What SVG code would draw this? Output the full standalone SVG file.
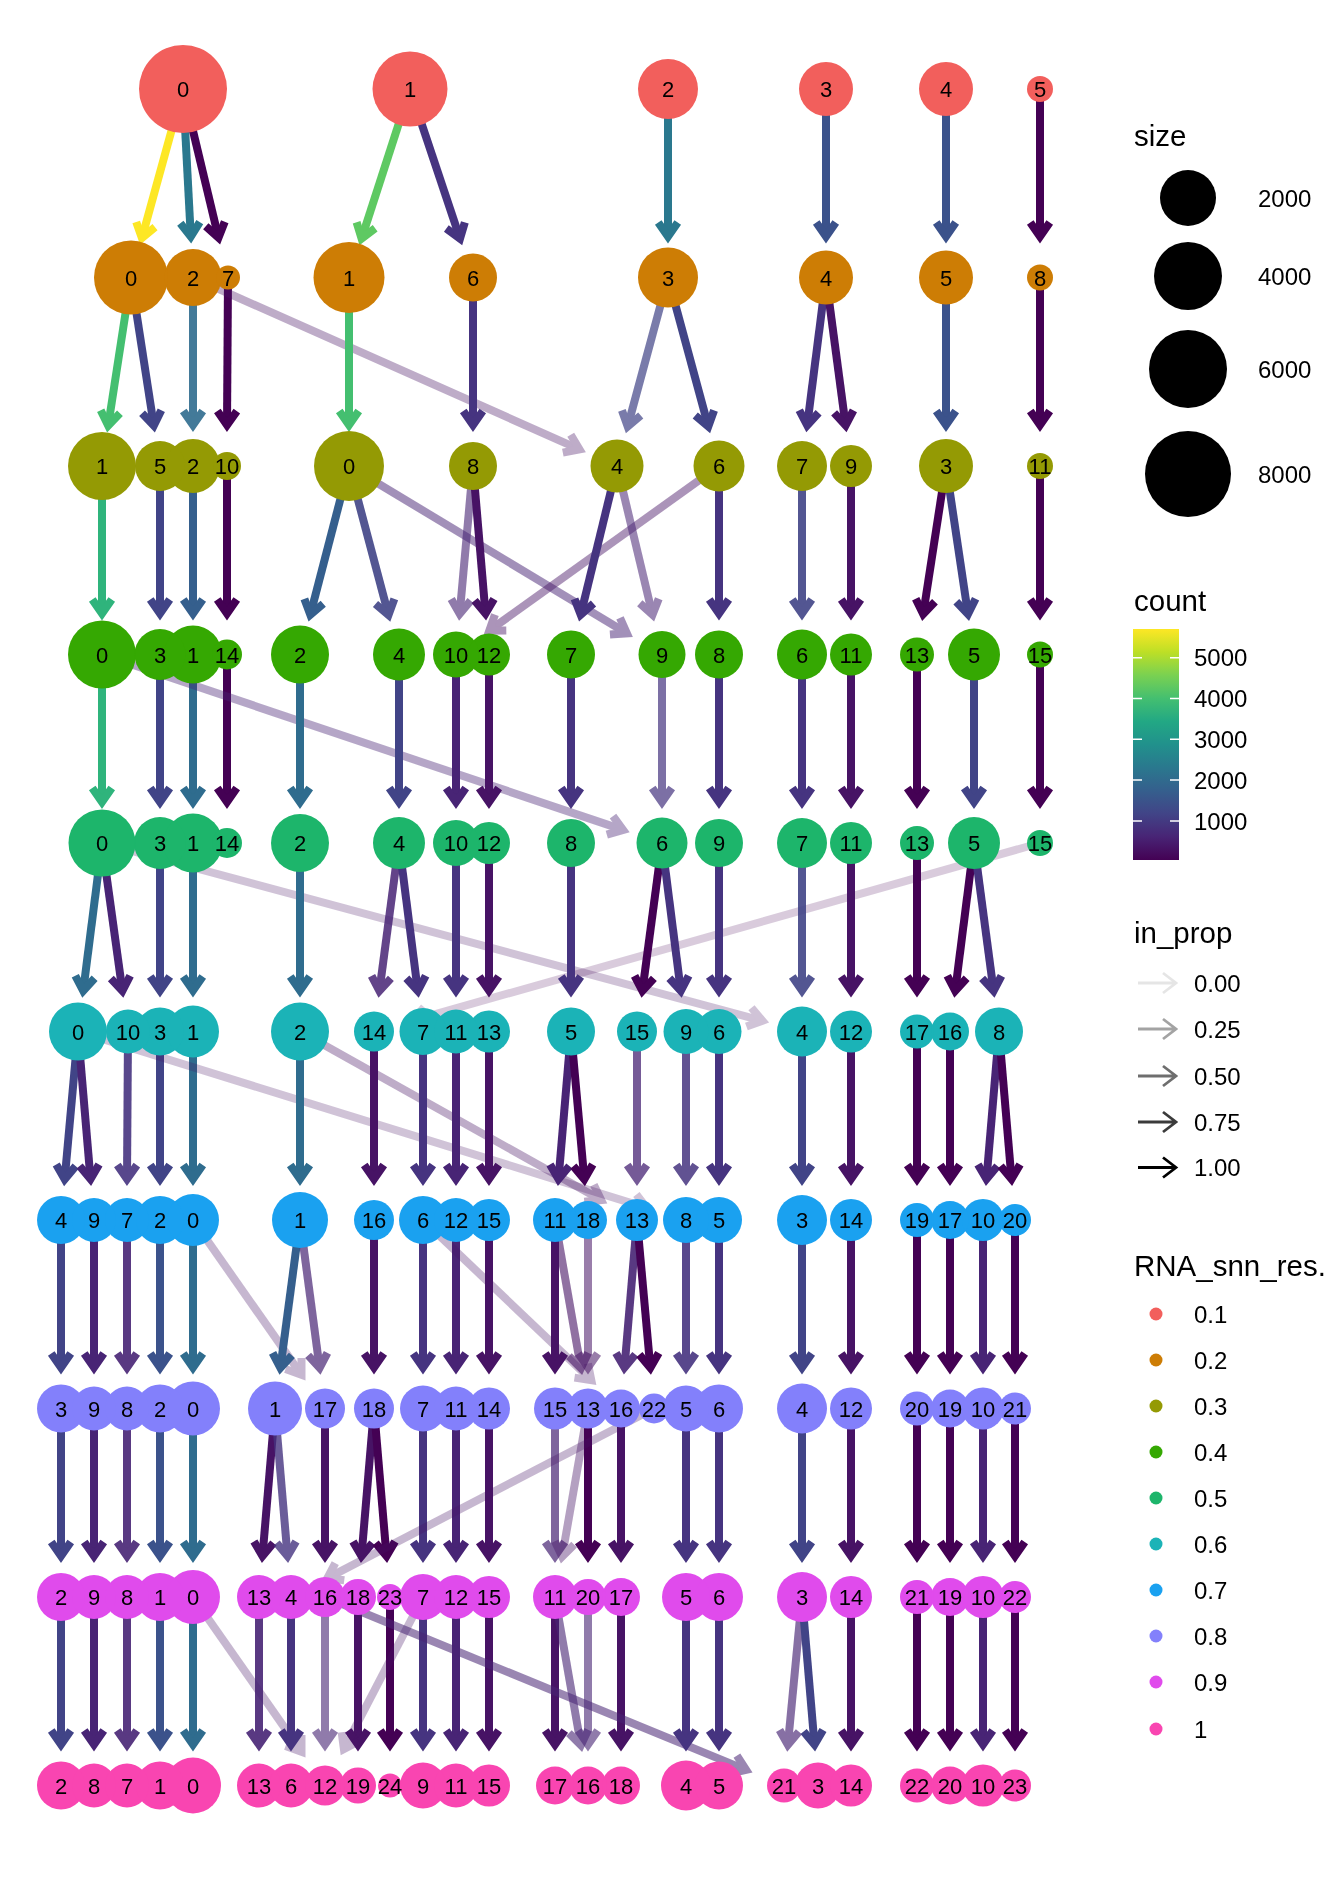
<svg xmlns="http://www.w3.org/2000/svg" width="1344" height="1881" viewBox="0 0 1344 1881">
<style>
.e{fill:none;stroke-width:8;stroke-linecap:butt}
.cA{stroke:#440154;marker-end:url(#mA)}
.cB{stroke:#471365;marker-end:url(#mB)}
.cC{stroke:#482475;marker-end:url(#mC)}
.cD{stroke:#463480;marker-end:url(#mD)}
.cE{stroke:#414487;marker-end:url(#mE)}
.cF{stroke:#3B528B;marker-end:url(#mF)}
.cG{stroke:#355F8D;marker-end:url(#mG)}
.cH{stroke:#2F6C8E;marker-end:url(#mH)}
.cI{stroke:#2A788E;marker-end:url(#mI)}
.cJ{stroke:#2FB47C;marker-end:url(#mJ)}
.cK{stroke:#44BF70;marker-end:url(#mK)}
.cL{stroke:#5EC962;marker-end:url(#mL)}
.cM{stroke:#FDE725;marker-end:url(#mM)}
.ah{fill:none;stroke-width:8;stroke-linejoin:miter}
.r1{fill:#F25F5C}.r2{fill:#CD7D05}.r3{fill:#949A04}.r4{fill:#35A802}.r5{fill:#1DB56B}
.r6{fill:#1BB3B7}.r7{fill:#1AA1F0}.r8{fill:#8380FB}.r9{fill:#E04BEC}.r10{fill:#F945B1}
text{font-family:'Liberation Sans',Arial,Helvetica,sans-serif;fill:#000}
#nodes{isolation:isolate}
#nodes circle{mix-blend-mode:darken}
#nodes text{font-size:22px;text-anchor:middle}
.lg{font-size:24px}
.lt{font-size:29.5px}
.tk{stroke:#fff;stroke-width:1.5}
.ip{fill:none;stroke:#000;stroke-width:2.8}
</style>
<defs>
<marker id="mA" markerUnits="userSpaceOnUse" orient="auto" overflow="visible" markerWidth="30" markerHeight="30" refX="0" refY="0"><path class="ah" stroke="#440154" d="M-13.93,-9.75L0,0L-13.93,9.75"/></marker>
<marker id="mB" markerUnits="userSpaceOnUse" orient="auto" overflow="visible" markerWidth="30" markerHeight="30" refX="0" refY="0"><path class="ah" stroke="#471365" d="M-13.93,-9.75L0,0L-13.93,9.75"/></marker>
<marker id="mC" markerUnits="userSpaceOnUse" orient="auto" overflow="visible" markerWidth="30" markerHeight="30" refX="0" refY="0"><path class="ah" stroke="#482475" d="M-13.93,-9.75L0,0L-13.93,9.75"/></marker>
<marker id="mD" markerUnits="userSpaceOnUse" orient="auto" overflow="visible" markerWidth="30" markerHeight="30" refX="0" refY="0"><path class="ah" stroke="#463480" d="M-13.93,-9.75L0,0L-13.93,9.75"/></marker>
<marker id="mE" markerUnits="userSpaceOnUse" orient="auto" overflow="visible" markerWidth="30" markerHeight="30" refX="0" refY="0"><path class="ah" stroke="#414487" d="M-13.93,-9.75L0,0L-13.93,9.75"/></marker>
<marker id="mF" markerUnits="userSpaceOnUse" orient="auto" overflow="visible" markerWidth="30" markerHeight="30" refX="0" refY="0"><path class="ah" stroke="#3B528B" d="M-13.93,-9.75L0,0L-13.93,9.75"/></marker>
<marker id="mG" markerUnits="userSpaceOnUse" orient="auto" overflow="visible" markerWidth="30" markerHeight="30" refX="0" refY="0"><path class="ah" stroke="#355F8D" d="M-13.93,-9.75L0,0L-13.93,9.75"/></marker>
<marker id="mH" markerUnits="userSpaceOnUse" orient="auto" overflow="visible" markerWidth="30" markerHeight="30" refX="0" refY="0"><path class="ah" stroke="#2F6C8E" d="M-13.93,-9.75L0,0L-13.93,9.75"/></marker>
<marker id="mI" markerUnits="userSpaceOnUse" orient="auto" overflow="visible" markerWidth="30" markerHeight="30" refX="0" refY="0"><path class="ah" stroke="#2A788E" d="M-13.93,-9.75L0,0L-13.93,9.75"/></marker>
<marker id="mJ" markerUnits="userSpaceOnUse" orient="auto" overflow="visible" markerWidth="30" markerHeight="30" refX="0" refY="0"><path class="ah" stroke="#2FB47C" d="M-13.93,-9.75L0,0L-13.93,9.75"/></marker>
<marker id="mK" markerUnits="userSpaceOnUse" orient="auto" overflow="visible" markerWidth="30" markerHeight="30" refX="0" refY="0"><path class="ah" stroke="#44BF70" d="M-13.93,-9.75L0,0L-13.93,9.75"/></marker>
<marker id="mL" markerUnits="userSpaceOnUse" orient="auto" overflow="visible" markerWidth="30" markerHeight="30" refX="0" refY="0"><path class="ah" stroke="#5EC962" d="M-13.93,-9.75L0,0L-13.93,9.75"/></marker>
<marker id="mM" markerUnits="userSpaceOnUse" orient="auto" overflow="visible" markerWidth="30" markerHeight="30" refX="0" refY="0"><path class="ah" stroke="#FDE725" d="M-13.93,-9.75L0,0L-13.93,9.75"/></marker>
<linearGradient id="vir" x1="0" y1="1" x2="0" y2="0">
<stop offset="0" stop-color="#440154"/><stop offset="0.1" stop-color="#482475"/><stop offset="0.2" stop-color="#414487"/><stop offset="0.3" stop-color="#355F8D"/><stop offset="0.4" stop-color="#2A788E"/><stop offset="0.5" stop-color="#21918C"/><stop offset="0.6" stop-color="#22A884"/><stop offset="0.7" stop-color="#44BF70"/><stop offset="0.8" stop-color="#7AD151"/><stop offset="0.9" stop-color="#BDDF26"/><stop offset="1" stop-color="#FDE725"/>
</linearGradient>
</defs>
<rect width="1344" height="1881" fill="#fff"/>
<g id="edges">
<line class="e cM" x1="183" y1="89" x2="141.9" y2="238"/>
<line class="e cI" x1="183" y1="89" x2="190.8" y2="236.6"/>
<line class="e cA" x1="183" y1="89" x2="218.5" y2="237.6"/>
<line class="e cL" x1="410" y1="89" x2="361.6" y2="238.5"/>
<line class="e cD" x1="410" y1="89" x2="460" y2="238.6"/>
<line class="e cI" x1="668" y1="89" x2="668" y2="236.5"/>
<line class="e cF" x1="826" y1="89" x2="826" y2="236.5"/>
<line class="e cF" x1="946" y1="89" x2="946" y2="236.5"/>
<line class="e cA" x1="1040" y1="89" x2="1040" y2="236.5"/>

<line class="e cK" x1="131" y1="277.5" x2="108.2" y2="425.5"/>
<line class="e cE" x1="131" y1="277.5" x2="153.8" y2="425.5"/>
<line class="e cH" opacity="0.9" x1="193" y1="277.5" x2="193" y2="425"/>
<line class="e cA" x1="228" y1="277.5" x2="227" y2="425"/>
<line class="e cB" opacity="0.35" x1="193" y1="277.5" x2="579.5" y2="449.3"/>
<line class="e cK" x1="349" y1="277.5" x2="349" y2="425"/>
<line class="e cD" x1="473" y1="277.5" x2="473" y2="425"/>
<line class="e cE" opacity="0.7" x1="668" y1="277.5" x2="627.7" y2="426.4"/>
<line class="e cE" x1="668" y1="277.5" x2="708.3" y2="426.4"/>
<line class="e cD" x1="826" y1="277.5" x2="807.2" y2="425.3"/>
<line class="e cB" x1="826" y1="277.5" x2="845.6" y2="425.4"/>
<line class="e cF" x1="946" y1="277.5" x2="946" y2="425"/>
<line class="e cA" x1="1040" y1="277.5" x2="1040" y2="425"/>

<line class="e cJ" x1="102" y1="466" x2="102" y2="613.5"/>
<line class="e cE" x1="160" y1="466" x2="160" y2="613.5"/>
<line class="e cG" x1="193" y1="466" x2="193" y2="613.5"/>
<line class="e cA" x1="227" y1="466" x2="227" y2="613.5"/>
<line class="e cG" x1="349" y1="466" x2="310.3" y2="614.8"/>
<line class="e cE" opacity="0.9" x1="349" y1="466" x2="388.5" y2="614.9"/>
<line class="e cC" opacity="0.5" x1="349" y1="466" x2="626.9" y2="633.3"/>
<line class="e cC" opacity="0.6" x1="473" y1="466" x2="459.7" y2="613.7"/>
<line class="e cB" x1="473" y1="466" x2="485.5" y2="613.6"/>
<line class="e cB" opacity="0.45" x1="719" y1="466" x2="489.3" y2="630.6"/>
<line class="e cD" x1="617" y1="466" x2="580.7" y2="614.7"/>
<line class="e cC" opacity="0.55" x1="617" y1="466" x2="652.5" y2="614.6"/>
<line class="e cD" x1="719" y1="466" x2="719" y2="613.5"/>
<line class="e cE" opacity="0.9" x1="802" y1="466" x2="802" y2="613.5"/>
<line class="e cB" x1="851" y1="466" x2="851" y2="613.5"/>
<line class="e cA" x1="946" y1="466" x2="923.2" y2="614"/>
<line class="e cE" x1="946" y1="466" x2="968" y2="614"/>
<line class="e cA" x1="1040" y1="466" x2="1040" y2="613.5"/>

<line class="e cJ" x1="102" y1="654.5" x2="102" y2="802"/>
<line class="e cE" x1="160" y1="654.5" x2="160" y2="802"/>
<line class="e cH" x1="193" y1="654.5" x2="193" y2="802"/>
<line class="e cA" x1="227" y1="654.5" x2="227" y2="802"/>
<line class="e cC" opacity="0.4" x1="102" y1="654.5" x2="623.1" y2="829.9"/>
<line class="e cH" x1="300" y1="654.5" x2="300" y2="802"/>
<line class="e cE" x1="399" y1="654.5" x2="399" y2="802"/>
<line class="e cC" x1="456" y1="654.5" x2="456" y2="802"/>
<line class="e cB" x1="489" y1="654.5" x2="489" y2="802"/>
<line class="e cD" x1="571" y1="654.5" x2="571" y2="802"/>
<line class="e cD" opacity="0.7" x1="662" y1="654.5" x2="662" y2="802"/>
<line class="e cD" x1="719" y1="654.5" x2="719" y2="802"/>
<line class="e cD" x1="802" y1="654.5" x2="802" y2="802"/>
<line class="e cB" x1="851" y1="654.5" x2="851" y2="802"/>
<line class="e cA" x1="917" y1="654.5" x2="917" y2="802"/>
<line class="e cE" x1="974" y1="654.5" x2="974" y2="802"/>
<line class="e cA" x1="1040" y1="654.5" x2="1040" y2="802"/>

<line class="e cH" x1="102" y1="843" x2="83.2" y2="990.8"/>
<line class="e cC" x1="102" y1="843" x2="122.4" y2="990.9"/>
<line class="e cE" x1="160" y1="843" x2="160" y2="990.5"/>
<line class="e cH" x1="193" y1="843" x2="193" y2="990.5"/>
<line class="e cB" opacity="0.25" x1="102" y1="843" x2="762.4" y2="1020.8"/>
<line class="e cH" x1="300" y1="843" x2="300" y2="990.5"/>
<line class="e cC" opacity="0.85" x1="399" y1="843" x2="379.4" y2="990.9"/>
<line class="e cD" x1="399" y1="843" x2="417.8" y2="990.8"/>
<line class="e cD" x1="456" y1="843" x2="456" y2="990.5"/>
<line class="e cB" x1="489" y1="843" x2="489" y2="990.5"/>
<line class="e cA" opacity="0.2" x1="1040" y1="843" x2="413.4" y2="1020.3"/>
<line class="e cD" x1="571" y1="843" x2="571" y2="990.5"/>
<line class="e cA" x1="662" y1="843" x2="642.4" y2="990.9"/>
<line class="e cD" x1="662" y1="843" x2="680.8" y2="990.8"/>
<line class="e cD" x1="719" y1="843" x2="719" y2="990.5"/>
<line class="e cE" opacity="0.9" x1="802" y1="843" x2="802" y2="990.5"/>
<line class="e cB" x1="851" y1="843" x2="851" y2="990.5"/>
<line class="e cA" x1="917" y1="843" x2="917" y2="990.5"/>
<line class="e cA" x1="974" y1="843" x2="955.2" y2="990.8"/>
<line class="e cD" x1="974" y1="843" x2="993.6" y2="990.9"/>

<line class="e cE" x1="78" y1="1031.5" x2="64.7" y2="1179.2"/>
<line class="e cC" x1="78" y1="1031.5" x2="90.5" y2="1179.1"/>
<line class="e cD" opacity="0.9" x1="128" y1="1031.5" x2="127" y2="1179"/>
<line class="e cE" x1="160" y1="1031.5" x2="160" y2="1179"/>
<line class="e cH" x1="193" y1="1031.5" x2="193" y2="1179"/>
<line class="e cB" opacity="0.25" x1="78" y1="1031.5" x2="646.8" y2="1207.9"/>
<line class="e cH" x1="300" y1="1031.5" x2="300" y2="1179"/>
<line class="e cB" opacity="0.35" x1="300" y1="1031.5" x2="601.2" y2="1200"/>
<line class="e cB" x1="374" y1="1031.5" x2="374" y2="1179"/>
<line class="e cD" x1="423" y1="1031.5" x2="423" y2="1179"/>
<line class="e cC" x1="456" y1="1031.5" x2="456" y2="1179"/>
<line class="e cB" x1="489" y1="1031.5" x2="489" y2="1179"/>
<line class="e cC" x1="571" y1="1031.5" x2="558.5" y2="1179.1"/>
<line class="e cA" x1="571" y1="1031.5" x2="584.3" y2="1179.2"/>
<line class="e cC" opacity="0.75" x1="637" y1="1031.5" x2="637" y2="1179"/>
<line class="e cD" opacity="0.85" x1="686" y1="1031.5" x2="686" y2="1179"/>
<line class="e cD" x1="719" y1="1031.5" x2="719" y2="1179"/>
<line class="e cE" x1="802" y1="1031.5" x2="802" y2="1179"/>
<line class="e cB" x1="851" y1="1031.5" x2="851" y2="1179"/>
<line class="e cA" x1="917" y1="1031.5" x2="917" y2="1179"/>
<line class="e cA" x1="950" y1="1031.5" x2="950" y2="1179"/>
<line class="e cC" x1="999" y1="1031.5" x2="986.5" y2="1179.1"/>
<line class="e cA" x1="999" y1="1031.5" x2="1011.5" y2="1179.1"/>

<line class="e cE" x1="61" y1="1220" x2="61" y2="1367.5"/>
<line class="e cC" x1="94" y1="1220" x2="94" y2="1367.5"/>
<line class="e cC" opacity="0.9" x1="127" y1="1220" x2="127" y2="1367.5"/>
<line class="e cF" x1="160" y1="1220" x2="160" y2="1367.5"/>
<line class="e cH" x1="193" y1="1220" x2="193" y2="1367.5"/>
<line class="e cB" opacity="0.3" x1="193" y1="1220" x2="301.5" y2="1374.9"/>
<line class="e cG" x1="300" y1="1220" x2="280.4" y2="1367.9"/>
<line class="e cC" opacity="0.7" x1="300" y1="1220" x2="319.6" y2="1367.9"/>
<line class="e cB" x1="374" y1="1220" x2="374" y2="1367.5"/>
<line class="e cD" x1="423" y1="1220" x2="423" y2="1367.5"/>
<line class="e cC" x1="456" y1="1220" x2="456" y2="1367.5"/>
<line class="e cB" x1="489" y1="1220" x2="489" y2="1367.5"/>
<line class="e cB" x1="555" y1="1220" x2="555" y2="1367.5"/>
<line class="e cB" opacity="0.6" x1="555" y1="1220" x2="580.9" y2="1368.1"/>
<line class="e cB" opacity="0.55" x1="588" y1="1220" x2="588" y2="1367.5"/>
<line class="e cB" opacity="0.3" x1="423" y1="1220" x2="591.3" y2="1380.2"/>
<line class="e cC" opacity="0.9" x1="637" y1="1220" x2="624.5" y2="1367.6"/>
<line class="e cA" x1="637" y1="1220" x2="650.3" y2="1367.7"/>
<line class="e cD" opacity="0.9" x1="686" y1="1220" x2="686" y2="1367.5"/>
<line class="e cD" x1="719" y1="1220" x2="719" y2="1367.5"/>
<line class="e cE" x1="802" y1="1220" x2="802" y2="1367.5"/>
<line class="e cB" x1="851" y1="1220" x2="851" y2="1367.5"/>
<line class="e cA" x1="917" y1="1220" x2="917" y2="1367.5"/>
<line class="e cA" x1="950" y1="1220" x2="950" y2="1367.5"/>
<line class="e cC" x1="983" y1="1220" x2="983" y2="1367.5"/>
<line class="e cA" x1="1015" y1="1220" x2="1015" y2="1367.5"/>

<line class="e cE" x1="61" y1="1408.5" x2="61" y2="1556"/>
<line class="e cC" x1="94" y1="1408.5" x2="94" y2="1556"/>
<line class="e cC" opacity="0.9" x1="127" y1="1408.5" x2="127" y2="1556"/>
<line class="e cF" x1="160" y1="1408.5" x2="160" y2="1556"/>
<line class="e cH" x1="193" y1="1408.5" x2="193" y2="1556"/>
<line class="e cB" x1="275" y1="1408.5" x2="262.5" y2="1556.1"/>
<line class="e cD" opacity="0.8" x1="275" y1="1408.5" x2="287.5" y2="1556.1"/>
<line class="e cB" x1="325" y1="1408.5" x2="325" y2="1556"/>
<line class="e cB" x1="374" y1="1408.5" x2="361.5" y2="1556.1"/>
<line class="e cA" x1="374" y1="1408.5" x2="386.5" y2="1556.1"/>
<line class="e cD" x1="423" y1="1408.5" x2="423" y2="1556"/>
<line class="e cC" x1="456" y1="1408.5" x2="456" y2="1556"/>
<line class="e cB" x1="489" y1="1408.5" x2="489" y2="1556"/>
<line class="e cC" opacity="0.7" x1="555" y1="1408.5" x2="555" y2="1556"/>
<line class="e cB" opacity="0.4" x1="588" y1="1408.5" x2="562.1" y2="1556.6"/>
<line class="e cA" x1="588" y1="1408.5" x2="588" y2="1556"/>
<line class="e cB" x1="621" y1="1408.5" x2="621" y2="1556"/>
<line class="e cB" opacity="0.3" x1="654" y1="1408.5" x2="327.4" y2="1578.1"/>
<line class="e cD" x1="686" y1="1408.5" x2="686" y2="1556"/>
<line class="e cD" x1="719" y1="1408.5" x2="719" y2="1556"/>
<line class="e cE" x1="802" y1="1408.5" x2="802" y2="1556"/>
<line class="e cB" x1="851" y1="1408.5" x2="851" y2="1556"/>
<line class="e cA" x1="917" y1="1408.5" x2="917" y2="1556"/>
<line class="e cA" x1="950" y1="1408.5" x2="950" y2="1556"/>
<line class="e cC" x1="983" y1="1408.5" x2="983" y2="1556"/>
<line class="e cA" x1="1015" y1="1408.5" x2="1015" y2="1556"/>

<line class="e cE" x1="61" y1="1597" x2="61" y2="1744.5"/>
<line class="e cC" x1="94" y1="1597" x2="94" y2="1744.5"/>
<line class="e cC" opacity="0.9" x1="127" y1="1597" x2="127" y2="1744.5"/>
<line class="e cF" x1="160" y1="1597" x2="160" y2="1744.5"/>
<line class="e cH" x1="193" y1="1597" x2="193" y2="1744.5"/>
<line class="e cB" opacity="0.3" x1="193" y1="1597" x2="301.5" y2="1751.9"/>
<line class="e cC" opacity="0.9" x1="259" y1="1597" x2="259" y2="1744.5"/>
<line class="e cD" x1="291" y1="1597" x2="291" y2="1744.5"/>
<line class="e cC" opacity="0.6" x1="325" y1="1597" x2="325" y2="1744.5"/>
<line class="e cB" x1="358" y1="1597" x2="358" y2="1744.5"/>
<line class="e cA" x1="390" y1="1597" x2="390" y2="1744.5"/>
<line class="e cD" x1="423" y1="1597" x2="423" y2="1744.5"/>
<line class="e cB" opacity="0.3" x1="423" y1="1597" x2="343.9" y2="1749.1"/>
<line class="e cC" x1="456" y1="1597" x2="456" y2="1744.5"/>
<line class="e cB" x1="489" y1="1597" x2="489" y2="1744.5"/>
<line class="e cB" x1="555" y1="1597" x2="555" y2="1744.5"/>
<line class="e cC" opacity="0.6" x1="555" y1="1597" x2="580.9" y2="1745.1"/>
<line class="e cC" opacity="0.6" x1="588" y1="1597" x2="588" y2="1744.5"/>
<line class="e cB" x1="621" y1="1597" x2="621" y2="1744.5"/>
<line class="e cC" opacity="0.55" x1="325" y1="1597" x2="746.1" y2="1769.9"/>
<line class="e cD" x1="686" y1="1597" x2="686" y2="1744.5"/>
<line class="e cD" x1="719" y1="1597" x2="719" y2="1744.5"/>
<line class="e cC" opacity="0.65" x1="802" y1="1597" x2="787.9" y2="1744.7"/>
<line class="e cE" x1="802" y1="1597" x2="814.5" y2="1744.6"/>
<line class="e cB" x1="851" y1="1597" x2="851" y2="1744.5"/>
<line class="e cA" x1="917" y1="1597" x2="917" y2="1744.5"/>
<line class="e cA" x1="950" y1="1597" x2="950" y2="1744.5"/>
<line class="e cC" x1="983" y1="1597" x2="983" y2="1744.5"/>
<line class="e cA" x1="1015" y1="1597" x2="1015" y2="1744.5"/>
</g>
<g id="nodes">
<g id="r1_0"><circle class="r1" cx="183" cy="89" r="44"/><text x="183" y="97">0</text></g>
<g id="r1_1"><circle class="r1" cx="410" cy="89" r="37.5"/><text x="410" y="97">1</text></g>
<g id="r1_2"><circle class="r1" cx="668" cy="89" r="30"/><text x="668" y="97">2</text></g>
<g id="r1_3"><circle class="r1" cx="826" cy="89" r="27"/><text x="826" y="97">3</text></g>
<g id="r1_4"><circle class="r1" cx="946" cy="89" r="27"/><text x="946" y="97">4</text></g>
<g id="r1_5"><circle class="r1" cx="1040" cy="89" r="13"/><text x="1040" y="97">5</text></g>

<g id="r2_0"><circle class="r2" cx="131" cy="277.5" r="37"/><text x="131" y="285.5">0</text></g>
<g id="r2_2"><circle class="r2" cx="193" cy="277.5" r="28.5"/><text x="193" y="285.5">2</text></g>
<g id="r2_7"><circle class="r2" cx="228" cy="277.5" r="12"/><text x="228" y="285.5">7</text></g>
<g id="r2_1"><circle class="r2" cx="349" cy="277.5" r="35.5"/><text x="349" y="285.5">1</text></g>
<g id="r2_6"><circle class="r2" cx="473" cy="277.5" r="24"/><text x="473" y="285.5">6</text></g>
<g id="r2_3"><circle class="r2" cx="668" cy="277.5" r="30"/><text x="668" y="285.5">3</text></g>
<g id="r2_4"><circle class="r2" cx="826" cy="277.5" r="27"/><text x="826" y="285.5">4</text></g>
<g id="r2_5"><circle class="r2" cx="946" cy="277.5" r="27"/><text x="946" y="285.5">5</text></g>
<g id="r2_8"><circle class="r2" cx="1040" cy="277.5" r="13"/><text x="1040" y="285.5">8</text></g>

<g id="r3_1"><circle class="r3" cx="102" cy="466" r="34"/><text x="102" y="474">1</text></g>
<g id="r3_5"><circle class="r3" cx="160" cy="466" r="25"/><text x="160" y="474">5</text></g>
<g id="r3_2"><circle class="r3" cx="193" cy="466" r="27"/><text x="193" y="474">2</text></g>
<g id="r3_10"><circle class="r3" cx="227" cy="466" r="14"/><text x="227" y="474">10</text></g>
<g id="r3_0"><circle class="r3" cx="349" cy="466" r="35"/><text x="349" y="474">0</text></g>
<g id="r3_8"><circle class="r3" cx="473" cy="466" r="24"/><text x="473" y="474">8</text></g>
<g id="r3_4"><circle class="r3" cx="617" cy="466" r="26.5"/><text x="617" y="474">4</text></g>
<g id="r3_6"><circle class="r3" cx="719" cy="466" r="25.5"/><text x="719" y="474">6</text></g>
<g id="r3_7"><circle class="r3" cx="802" cy="466" r="25"/><text x="802" y="474">7</text></g>
<g id="r3_9"><circle class="r3" cx="851" cy="466" r="21"/><text x="851" y="474">9</text></g>
<g id="r3_3"><circle class="r3" cx="946" cy="466" r="27"/><text x="946" y="474">3</text></g>
<g id="r3_11"><circle class="r3" cx="1040" cy="466" r="13"/><text x="1040" y="474">11</text></g>

<g id="r4_0"><circle class="r4" cx="102" cy="654.5" r="34"/><text x="102" y="662.5">0</text></g>
<g id="r4_3"><circle class="r4" cx="160" cy="654.5" r="25.5"/><text x="160" y="662.5">3</text></g>
<g id="r4_1"><circle class="r4" cx="193" cy="654.5" r="29"/><text x="193" y="662.5">1</text></g>
<g id="r4_14"><circle class="r4" cx="227" cy="654.5" r="15"/><text x="227" y="662.5">14</text></g>
<g id="r4_2"><circle class="r4" cx="300" cy="654.5" r="29"/><text x="300" y="662.5">2</text></g>
<g id="r4_4"><circle class="r4" cx="399" cy="654.5" r="26"/><text x="399" y="662.5">4</text></g>
<g id="r4_10"><circle class="r4" cx="456" cy="654.5" r="23"/><text x="456" y="662.5">10</text></g>
<g id="r4_12"><circle class="r4" cx="489" cy="654.5" r="21"/><text x="489" y="662.5">12</text></g>
<g id="r4_7"><circle class="r4" cx="571" cy="654.5" r="24"/><text x="571" y="662.5">7</text></g>
<g id="r4_9"><circle class="r4" cx="662" cy="654.5" r="23.5"/><text x="662" y="662.5">9</text></g>
<g id="r4_8"><circle class="r4" cx="719" cy="654.5" r="24"/><text x="719" y="662.5">8</text></g>
<g id="r4_6"><circle class="r4" cx="802" cy="654.5" r="25"/><text x="802" y="662.5">6</text></g>
<g id="r4_11"><circle class="r4" cx="851" cy="654.5" r="21"/><text x="851" y="662.5">11</text></g>
<g id="r4_13"><circle class="r4" cx="917" cy="654.5" r="17"/><text x="917" y="662.5">13</text></g>
<g id="r4_5"><circle class="r4" cx="974" cy="654.5" r="26"/><text x="974" y="662.5">5</text></g>
<g id="r4_15"><circle class="r4" cx="1040" cy="654.5" r="13"/><text x="1040" y="662.5">15</text></g>

<g id="r5_0"><circle class="r5" cx="102" cy="843" r="33.5"/><text x="102" y="851">0</text></g>
<g id="r5_3"><circle class="r5" cx="160" cy="843" r="26"/><text x="160" y="851">3</text></g>
<g id="r5_1"><circle class="r5" cx="193" cy="843" r="29.5"/><text x="193" y="851">1</text></g>
<g id="r5_14"><circle class="r5" cx="227" cy="843" r="15"/><text x="227" y="851">14</text></g>
<g id="r5_2"><circle class="r5" cx="300" cy="843" r="29"/><text x="300" y="851">2</text></g>
<g id="r5_4"><circle class="r5" cx="399" cy="843" r="26"/><text x="399" y="851">4</text></g>
<g id="r5_10"><circle class="r5" cx="456" cy="843" r="23"/><text x="456" y="851">10</text></g>
<g id="r5_12"><circle class="r5" cx="489" cy="843" r="21"/><text x="489" y="851">12</text></g>
<g id="r5_8"><circle class="r5" cx="571" cy="843" r="24"/><text x="571" y="851">8</text></g>
<g id="r5_6"><circle class="r5" cx="662" cy="843" r="25.5"/><text x="662" y="851">6</text></g>
<g id="r5_9"><circle class="r5" cx="719" cy="843" r="24"/><text x="719" y="851">9</text></g>
<g id="r5_7"><circle class="r5" cx="802" cy="843" r="25"/><text x="802" y="851">7</text></g>
<g id="r5_11"><circle class="r5" cx="851" cy="843" r="21"/><text x="851" y="851">11</text></g>
<g id="r5_13"><circle class="r5" cx="917" cy="843" r="17"/><text x="917" y="851">13</text></g>
<g id="r5_5"><circle class="r5" cx="974" cy="843" r="26"/><text x="974" y="851">5</text></g>
<g id="r5_15"><circle class="r5" cx="1040" cy="843" r="13"/><text x="1040" y="851">15</text></g>

<g id="r6_0"><circle class="r6" cx="78" cy="1031.5" r="29"/><text x="78" y="1039.5">0</text></g>
<g id="r6_10"><circle class="r6" cx="128" cy="1031.5" r="22"/><text x="128" y="1039.5">10</text></g>
<g id="r6_3"><circle class="r6" cx="160" cy="1031.5" r="24"/><text x="160" y="1039.5">3</text></g>
<g id="r6_1"><circle class="r6" cx="193" cy="1031.5" r="26"/><text x="193" y="1039.5">1</text></g>
<g id="r6_2"><circle class="r6" cx="300" cy="1031.5" r="29"/><text x="300" y="1039.5">2</text></g>
<g id="r6_14"><circle class="r6" cx="374" cy="1031.5" r="20"/><text x="374" y="1039.5">14</text></g>
<g id="r6_7"><circle class="r6" cx="423" cy="1031.5" r="23.5"/><text x="423" y="1039.5">7</text></g>
<g id="r6_11"><circle class="r6" cx="456" cy="1031.5" r="22"/><text x="456" y="1039.5">11</text></g>
<g id="r6_13"><circle class="r6" cx="489" cy="1031.5" r="21"/><text x="489" y="1039.5">13</text></g>
<g id="r6_5"><circle class="r6" cx="571" cy="1031.5" r="24"/><text x="571" y="1039.5">5</text></g>
<g id="r6_15"><circle class="r6" cx="637" cy="1031.5" r="20"/><text x="637" y="1039.5">15</text></g>
<g id="r6_9"><circle class="r6" cx="686" cy="1031.5" r="22.5"/><text x="686" y="1039.5">9</text></g>
<g id="r6_6"><circle class="r6" cx="719" cy="1031.5" r="22.5"/><text x="719" y="1039.5">6</text></g>
<g id="r6_4"><circle class="r6" cx="802" cy="1031.5" r="25"/><text x="802" y="1039.5">4</text></g>
<g id="r6_12"><circle class="r6" cx="851" cy="1031.5" r="21"/><text x="851" y="1039.5">12</text></g>
<g id="r6_17"><circle class="r6" cx="917" cy="1031.5" r="17"/><text x="917" y="1039.5">17</text></g>
<g id="r6_16"><circle class="r6" cx="950" cy="1031.5" r="19"/><text x="950" y="1039.5">16</text></g>
<g id="r6_8"><circle class="r6" cx="999" cy="1031.5" r="24"/><text x="999" y="1039.5">8</text></g>

<g id="r7_4"><circle class="r7" cx="61" cy="1220" r="24"/><text x="61" y="1228">4</text></g>
<g id="r7_9"><circle class="r7" cx="94" cy="1220" r="22"/><text x="94" y="1228">9</text></g>
<g id="r7_7"><circle class="r7" cx="127" cy="1220" r="22"/><text x="127" y="1228">7</text></g>
<g id="r7_2"><circle class="r7" cx="160" cy="1220" r="24"/><text x="160" y="1228">2</text></g>
<g id="r7_0"><circle class="r7" cx="193" cy="1220" r="26"/><text x="193" y="1228">0</text></g>
<g id="r7_1"><circle class="r7" cx="300" cy="1220" r="28"/><text x="300" y="1228">1</text></g>
<g id="r7_16"><circle class="r7" cx="374" cy="1220" r="20"/><text x="374" y="1228">16</text></g>
<g id="r7_6"><circle class="r7" cx="423" cy="1220" r="24"/><text x="423" y="1228">6</text></g>
<g id="r7_12"><circle class="r7" cx="456" cy="1220" r="22"/><text x="456" y="1228">12</text></g>
<g id="r7_15"><circle class="r7" cx="489" cy="1220" r="21"/><text x="489" y="1228">15</text></g>
<g id="r7_11"><circle class="r7" cx="555" cy="1220" r="22"/><text x="555" y="1228">11</text></g>
<g id="r7_18"><circle class="r7" cx="588" cy="1220" r="19"/><text x="588" y="1228">18</text></g>
<g id="r7_13"><circle class="r7" cx="637" cy="1220" r="21"/><text x="637" y="1228">13</text></g>
<g id="r7_8"><circle class="r7" cx="686" cy="1220" r="23"/><text x="686" y="1228">8</text></g>
<g id="r7_5"><circle class="r7" cx="719" cy="1220" r="23"/><text x="719" y="1228">5</text></g>
<g id="r7_3"><circle class="r7" cx="802" cy="1220" r="25"/><text x="802" y="1228">3</text></g>
<g id="r7_14"><circle class="r7" cx="851" cy="1220" r="21"/><text x="851" y="1228">14</text></g>
<g id="r7_19"><circle class="r7" cx="917" cy="1220" r="17"/><text x="917" y="1228">19</text></g>
<g id="r7_17"><circle class="r7" cx="950" cy="1220" r="19"/><text x="950" y="1228">17</text></g>
<g id="r7_10"><circle class="r7" cx="983" cy="1220" r="21"/><text x="983" y="1228">10</text></g>
<g id="r7_20"><circle class="r7" cx="1015" cy="1220" r="16"/><text x="1015" y="1228">20</text></g>

<g id="r8_3"><circle class="r8" cx="61" cy="1408.5" r="24"/><text x="61" y="1416.5">3</text></g>
<g id="r8_9"><circle class="r8" cx="94" cy="1408.5" r="22"/><text x="94" y="1416.5">9</text></g>
<g id="r8_8"><circle class="r8" cx="127" cy="1408.5" r="22"/><text x="127" y="1416.5">8</text></g>
<g id="r8_2"><circle class="r8" cx="160" cy="1408.5" r="24"/><text x="160" y="1416.5">2</text></g>
<g id="r8_0"><circle class="r8" cx="193" cy="1408.5" r="27"/><text x="193" y="1416.5">0</text></g>
<g id="r8_1"><circle class="r8" cx="275" cy="1408.5" r="27"/><text x="275" y="1416.5">1</text></g>
<g id="r8_17"><circle class="r8" cx="325" cy="1408.5" r="20"/><text x="325" y="1416.5">17</text></g>
<g id="r8_18"><circle class="r8" cx="374" cy="1408.5" r="20"/><text x="374" y="1416.5">18</text></g>
<g id="r8_7"><circle class="r8" cx="423" cy="1408.5" r="23"/><text x="423" y="1416.5">7</text></g>
<g id="r8_11"><circle class="r8" cx="456" cy="1408.5" r="22"/><text x="456" y="1416.5">11</text></g>
<g id="r8_14"><circle class="r8" cx="489" cy="1408.5" r="21"/><text x="489" y="1416.5">14</text></g>
<g id="r8_15"><circle class="r8" cx="555" cy="1408.5" r="21"/><text x="555" y="1416.5">15</text></g>
<g id="r8_13"><circle class="r8" cx="588" cy="1408.5" r="20"/><text x="588" y="1416.5">13</text></g>
<g id="r8_16"><circle class="r8" cx="621" cy="1408.5" r="19"/><text x="621" y="1416.5">16</text></g>
<g id="r8_22"><circle class="r8" cx="654" cy="1408.5" r="15"/><text x="654" y="1416.5">22</text></g>
<g id="r8_5"><circle class="r8" cx="686" cy="1408.5" r="23"/><text x="686" y="1416.5">5</text></g>
<g id="r8_6"><circle class="r8" cx="719" cy="1408.5" r="24"/><text x="719" y="1416.5">6</text></g>
<g id="r8_4"><circle class="r8" cx="802" cy="1408.5" r="25"/><text x="802" y="1416.5">4</text></g>
<g id="r8_12"><circle class="r8" cx="851" cy="1408.5" r="21"/><text x="851" y="1416.5">12</text></g>
<g id="r8_20"><circle class="r8" cx="917" cy="1408.5" r="17"/><text x="917" y="1416.5">20</text></g>
<g id="r8_19"><circle class="r8" cx="950" cy="1408.5" r="19"/><text x="950" y="1416.5">19</text></g>
<g id="r8_10"><circle class="r8" cx="983" cy="1408.5" r="21"/><text x="983" y="1416.5">10</text></g>
<g id="r8_21"><circle class="r8" cx="1015" cy="1408.5" r="16"/><text x="1015" y="1416.5">21</text></g>

<g id="r9_2"><circle class="r9" cx="61" cy="1597" r="24"/><text x="61" y="1605">2</text></g>
<g id="r9_9"><circle class="r9" cx="94" cy="1597" r="22"/><text x="94" y="1605">9</text></g>
<g id="r9_8"><circle class="r9" cx="127" cy="1597" r="22"/><text x="127" y="1605">8</text></g>
<g id="r9_1"><circle class="r9" cx="160" cy="1597" r="24"/><text x="160" y="1605">1</text></g>
<g id="r9_0"><circle class="r9" cx="193" cy="1597" r="27"/><text x="193" y="1605">0</text></g>
<g id="r9_13"><circle class="r9" cx="259" cy="1597" r="22"/><text x="259" y="1605">13</text></g>
<g id="r9_4"><circle class="r9" cx="291" cy="1597" r="22"/><text x="291" y="1605">4</text></g>
<g id="r9_16"><circle class="r9" cx="325" cy="1597" r="20"/><text x="325" y="1605">16</text></g>
<g id="r9_18"><circle class="r9" cx="358" cy="1597" r="18"/><text x="358" y="1605">18</text></g>
<g id="r9_23"><circle class="r9" cx="390" cy="1597" r="13"/><text x="390" y="1605">23</text></g>
<g id="r9_7"><circle class="r9" cx="423" cy="1597" r="23"/><text x="423" y="1605">7</text></g>
<g id="r9_12"><circle class="r9" cx="456" cy="1597" r="22"/><text x="456" y="1605">12</text></g>
<g id="r9_15"><circle class="r9" cx="489" cy="1597" r="21"/><text x="489" y="1605">15</text></g>
<g id="r9_11"><circle class="r9" cx="555" cy="1597" r="22"/><text x="555" y="1605">11</text></g>
<g id="r9_20"><circle class="r9" cx="588" cy="1597" r="18"/><text x="588" y="1605">20</text></g>
<g id="r9_17"><circle class="r9" cx="621" cy="1597" r="19"/><text x="621" y="1605">17</text></g>
<g id="r9_5"><circle class="r9" cx="686" cy="1597" r="24"/><text x="686" y="1605">5</text></g>
<g id="r9_6"><circle class="r9" cx="719" cy="1597" r="24"/><text x="719" y="1605">6</text></g>
<g id="r9_3"><circle class="r9" cx="802" cy="1597" r="25"/><text x="802" y="1605">3</text></g>
<g id="r9_14"><circle class="r9" cx="851" cy="1597" r="21"/><text x="851" y="1605">14</text></g>
<g id="r9_21"><circle class="r9" cx="917" cy="1597" r="17"/><text x="917" y="1605">21</text></g>
<g id="r9_19"><circle class="r9" cx="950" cy="1597" r="19"/><text x="950" y="1605">19</text></g>
<g id="r9_10"><circle class="r9" cx="983" cy="1597" r="21"/><text x="983" y="1605">10</text></g>
<g id="r9_22"><circle class="r9" cx="1015" cy="1597" r="16"/><text x="1015" y="1605">22</text></g>

<g id="r10_2"><circle class="r10" cx="61" cy="1785.5" r="24"/><text x="61" y="1793.5">2</text></g>
<g id="r10_8"><circle class="r10" cx="94" cy="1785.5" r="22"/><text x="94" y="1793.5">8</text></g>
<g id="r10_7"><circle class="r10" cx="127" cy="1785.5" r="22"/><text x="127" y="1793.5">7</text></g>
<g id="r10_1"><circle class="r10" cx="160" cy="1785.5" r="24"/><text x="160" y="1793.5">1</text></g>
<g id="r10_0"><circle class="r10" cx="193" cy="1785.5" r="28"/><text x="193" y="1793.5">0</text></g>
<g id="r10_13"><circle class="r10" cx="259" cy="1785.5" r="22"/><text x="259" y="1793.5">13</text></g>
<g id="r10_6"><circle class="r10" cx="291" cy="1785.5" r="22"/><text x="291" y="1793.5">6</text></g>
<g id="r10_12"><circle class="r10" cx="325" cy="1785.5" r="20"/><text x="325" y="1793.5">12</text></g>
<g id="r10_19"><circle class="r10" cx="358" cy="1785.5" r="18"/><text x="358" y="1793.5">19</text></g>
<g id="r10_24"><circle class="r10" cx="390" cy="1785.5" r="12"/><text x="390" y="1793.5">24</text></g>
<g id="r10_9"><circle class="r10" cx="423" cy="1785.5" r="23"/><text x="423" y="1793.5">9</text></g>
<g id="r10_11"><circle class="r10" cx="456" cy="1785.5" r="22"/><text x="456" y="1793.5">11</text></g>
<g id="r10_15"><circle class="r10" cx="489" cy="1785.5" r="21"/><text x="489" y="1793.5">15</text></g>
<g id="r10_17"><circle class="r10" cx="555" cy="1785.5" r="19"/><text x="555" y="1793.5">17</text></g>
<g id="r10_16"><circle class="r10" cx="588" cy="1785.5" r="19"/><text x="588" y="1793.5">16</text></g>
<g id="r10_18"><circle class="r10" cx="621" cy="1785.5" r="19"/><text x="621" y="1793.5">18</text></g>
<g id="r10_4"><circle class="r10" cx="686" cy="1785.5" r="25"/><text x="686" y="1793.5">4</text></g>
<g id="r10_5"><circle class="r10" cx="719" cy="1785.5" r="24"/><text x="719" y="1793.5">5</text></g>
<g id="r10_21"><circle class="r10" cx="784" cy="1785.5" r="17"/><text x="784" y="1793.5">21</text></g>
<g id="r10_3"><circle class="r10" cx="818" cy="1785.5" r="23"/><text x="818" y="1793.5">3</text></g>
<g id="r10_14"><circle class="r10" cx="851" cy="1785.5" r="21"/><text x="851" y="1793.5">14</text></g>
<g id="r10_22"><circle class="r10" cx="917" cy="1785.5" r="17"/><text x="917" y="1793.5">22</text></g>
<g id="r10_20"><circle class="r10" cx="950" cy="1785.5" r="19"/><text x="950" y="1793.5">20</text></g>
<g id="r10_10"><circle class="r10" cx="983" cy="1785.5" r="21"/><text x="983" y="1793.5">10</text></g>
<g id="r10_23"><circle class="r10" cx="1015" cy="1785.5" r="16"/><text x="1015" y="1793.5">23</text></g>
</g>
<g id="legend">
<text class="lt" x="1134" y="146">size</text>
<circle cx="1188" cy="198" r="28"/><text class="lg" x="1258" y="207">2000</text>
<circle cx="1188" cy="276" r="34"/><text class="lg" x="1258" y="285">4000</text>
<circle cx="1188" cy="369" r="39"/><text class="lg" x="1258" y="378">6000</text>
<circle cx="1188" cy="474" r="43"/><text class="lg" x="1258" y="483">8000</text>
<text class="lt" x="1134" y="611">count</text>
<rect x="1133" y="629" width="46" height="231" fill="url(#vir)"/>
<path class="tk" d="M1133,657.7h9M1170,657.7h9M1133,698.5h9M1170,698.5h9M1133,739.3h9M1170,739.3h9M1133,780.1h9M1170,780.1h9M1133,820.9h9M1170,820.9h9"/>
<text class="lg" x="1194" y="666.3">5000</text>
<text class="lg" x="1194" y="707.1">4000</text>
<text class="lg" x="1194" y="747.9">3000</text>
<text class="lg" x="1194" y="788.7">2000</text>
<text class="lg" x="1194" y="829.5">1000</text>
<text class="lt" x="1134" y="943">in_prop</text>
<path class="ip" opacity="0.1" d="M1138,983H1175M1163,973L1176,983L1163,993"/>
<path class="ip" opacity="0.36" d="M1138,1029H1175M1163,1019L1176,1029L1163,1039"/>
<path class="ip" opacity="0.57" d="M1138,1076H1175M1163,1066L1176,1076L1163,1086"/>
<path class="ip" opacity="0.77" d="M1138,1122H1175M1163,1112L1176,1122L1163,1132"/>
<path class="ip" d="M1138,1167.5H1175M1163,1157.5L1176,1167.5L1163,1177.5"/>
<text class="lg" x="1194" y="991.6">0.00</text>
<text class="lg" x="1194" y="1037.6">0.25</text>
<text class="lg" x="1194" y="1084.6">0.50</text>
<text class="lg" x="1194" y="1130.6">0.75</text>
<text class="lg" x="1194" y="1176.1">1.00</text>
<text class="lt" x="1134" y="1276">RNA_snn_res.</text>
<circle class="r1" cx="1156" cy="1314" r="6.5"/><text class="lg" x="1194" y="1322.6">0.1</text>
<circle class="r2" cx="1156" cy="1360" r="6.5"/><text class="lg" x="1194" y="1368.6">0.2</text>
<circle class="r3" cx="1156" cy="1406" r="6.5"/><text class="lg" x="1194" y="1414.6">0.3</text>
<circle class="r4" cx="1156" cy="1452" r="6.5"/><text class="lg" x="1194" y="1460.6">0.4</text>
<circle class="r5" cx="1156" cy="1498" r="6.5"/><text class="lg" x="1194" y="1506.6">0.5</text>
<circle class="r6" cx="1156" cy="1544" r="6.5"/><text class="lg" x="1194" y="1552.6">0.6</text>
<circle class="r7" cx="1156" cy="1590" r="6.5"/><text class="lg" x="1194" y="1598.6">0.7</text>
<circle class="r8" cx="1156" cy="1636" r="6.5"/><text class="lg" x="1194" y="1644.6">0.8</text>
<circle class="r9" cx="1156" cy="1682" r="6.5"/><text class="lg" x="1194" y="1690.6">0.9</text>
<circle class="r10" cx="1156" cy="1729" r="6.5"/><text class="lg" x="1194" y="1737.6">1</text>
</g>
</svg>
